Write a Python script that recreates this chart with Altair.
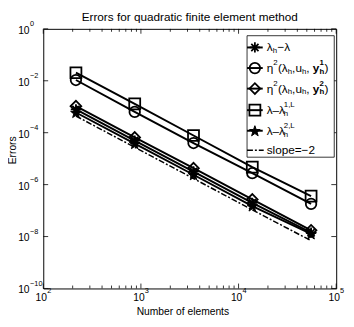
import math
import altair as alt
import pandas as pd

# ---------------- data ----------------
N = [216, 864, 3456, 13824, 55296]
err_lam = [7.9e-4, 5.0e-5, 3.2e-6, 2.0e-7, 1.41e-8]      # lambda_h - lambda   (asterisk)
eta_y1 = [1.07e-2, 6.3e-4, 4.0e-5, 2.75e-6, 1.8e-7]     # eta^2(.., y1)       (circle)
eta_y2 = [1.05e-3, 6.6e-5, 4.3e-6, 2.7e-7, 1.74e-8]     # eta^2(.., y2)       (diamond)
lam_1L = [2.04e-2, 1.29e-3, 7.8e-5, 4.7e-6, 3.6e-7]     # lambda - lambda^1L  (square)
lam_2L = [6.0e-4, 3.8e-5, 2.4e-6, 1.5e-7, 1.26e-8]      # lambda - lambda^2L  (star)
slope = [4.4e-4, 2.75e-5, 1.72e-6, 1.07e-7, 6.9e-9]     # slope = -2 reference

series_keys = ["lam", "eta1", "eta2", "l1L", "l2L"]
series_vals = [err_lam, eta_y1, eta_y2, lam_1L, lam_2L]

x_ticks = [100, 1000, 10000, 100000]
x_exp = ["2", "3", "4", "5"]
y_ticks = [1, 1e-2, 1e-4, 1e-6, 1e-8, 1e-10]
y_exp = ["0", "\u22122", "\u22124", "\u22126", "\u22128", "\u221210"]
x_minor = [k * 10 ** d for d in range(2, 5) for k in range(2, 10)]

title_text = "Errors for quadratic finite element method"
x_title = "Number of elements"
y_title = "Errors"

# legend rows (pixel row centres inside plot) and text segments
legend_rows = ["lam", "eta1", "eta2", "l1L", "l2L", "slope"]
legend_row_y = [19, 40, 61, 83, 104, 124]
# (row index, text, dx, dy, font size, bold)
legend_segments = [
    (0, "\u03bb", 0, 0, 12, False), (0, "h", 6.2, 4, 8, False), (0, "\u2212\u03bb", 11, 0, 12, False),
    (1, "\u03b7", 0, 0, 12, False), (1, "2", 6.8, -5, 8, False), (1, "(\u03bb", 11.5, 0, 12, False),
    (1, "h", 21.5, 4, 8, False), (1, ",u", 26, 0, 12, False), (1, "h", 36, 4, 8, False),
    (1, ",", 40.5, 0, 12, False), (1, "y", 47, 0, 12, True), (1, "1", 54, -5, 8, True),
    (1, "h", 54, 4, 8, True), (1, ")", 59, 0, 12, False),
    (2, "\u03b7", 0, 0, 12, False), (2, "2", 6.8, -5, 8, False), (2, "(\u03bb", 11.5, 0, 12, False),
    (2, "h", 21.5, 4, 8, False), (2, ",u", 26, 0, 12, False), (2, "h", 36, 4, 8, False),
    (2, ",", 40.5, 0, 12, False), (2, "y", 47, 0, 12, True), (2, "2", 54, -5, 8, True),
    (2, "h", 54, 4, 8, True), (2, ")", 59, 0, 12, False),
    (3, "\u03bb\u2013\u03bb", 0, 0, 12, False), (3, "1,L", 17.5, -5, 8, False), (3, "h", 17.5, 4, 8, False),
    (4, "\u03bb\u2013\u03bb", 0, 0, 12, False), (4, "2,L", 17.5, -5, 8, False), (4, "h", 17.5, 4, 8, False),
    (5, "slope=\u22122", 0, 0, 12, False),
]

# ---------------- layout constants ----------------
W, H = 299, 265
FONT = "Liberation Sans"
LEG_X0, LEG_X1, LEG_Y0, LEG_Y1 = 208, 297, 7, 131
LEG_LINE0, LEG_LINE1, LEG_MARK, LEG_TEXT = 208, 224, 216, 228


def pentagram():
    pts = []
    for i in range(10):
        r = 1.0 if i % 2 == 0 else 0.40
        a = -math.pi / 2 + i * math.pi / 5
        pts.append((r * math.cos(a), r * math.sin(a) + 0.1))
    return "M" + "L".join(f"{x:.3f},{y:.3f}" for x, y in pts) + "Z"


ASTERISK = "M-1,0L1,0M0,-1L0,1M-0.7,-0.7L0.7,0.7M-0.7,0.7L0.7,-0.7"
shape_range = [ASTERISK, "circle", "diamond", "square", pentagram()]
size_range = [110, 130, 150, 100, 180]

xs = alt.Scale(type="log", domain=[100, 100000])
ys = alt.Scale(type="log", domain=[1e-10, 1])
shape_scale = alt.Scale(domain=series_keys, range=shape_range)
size_scale = alt.Scale(domain=series_keys, range=size_range)

# ---------------- data frames ----------------
rows = []
for k, vals in zip(series_keys, series_vals):
    for n, v in zip(N, vals):
        rows.append({"key": k, "N": n, "err": v})
df = pd.DataFrame(rows)
df_slope = pd.DataFrame({"N": N, "err": slope})

Xn = alt.X("N:Q", scale=xs, axis=None)
Yn = alt.Y("err:Q", scale=ys, axis=None)

lines = alt.Chart(df).mark_line(color="black", strokeWidth=2).encode(x=Xn, y=Yn, detail="key:N")
open_pts = alt.Chart(df[df.key != "l2L"]).mark_point(color="black", filled=False, strokeWidth=1.8, opacity=1).encode(
    x=Xn, y=Yn,
    shape=alt.Shape("key:N", scale=shape_scale, legend=None),
    size=alt.Size("key:N", scale=size_scale, legend=None))
star_pts = alt.Chart(df[df.key == "l2L"]).mark_point(color="black", filled=True, stroke="black",
                                                      strokeWidth=1, opacity=1).encode(
    x=Xn, y=Yn,
    shape=alt.Shape("key:N", scale=shape_scale, legend=None),
    size=alt.Size("key:N", scale=size_scale, legend=None))
slope_line = alt.Chart(df_slope).mark_line(color="black", strokeWidth=1.5, strokeDash=[6, 2, 2, 2]).encode(
    x=Xn, y=Yn)

# ---------------- ticks ----------------
df_xt = pd.DataFrame({"N": x_ticks, "e": x_exp})
df_xm = pd.DataFrame({"N": x_minor})
df_yt = pd.DataFrame({"err": y_ticks, "e": y_exp})

tick_layers = [
    alt.Chart(df_xt).mark_rule(color="black", strokeWidth=0.8).encode(x=Xn, y=alt.value(H), y2=alt.value(H - 5)),
    alt.Chart(df_xt).mark_rule(color="black", strokeWidth=0.8).encode(x=Xn, y=alt.value(0), y2=alt.value(5)),
    alt.Chart(df_xm).mark_rule(color="black", strokeWidth=0.8).encode(x=Xn, y=alt.value(H), y2=alt.value(H - 3)),
    alt.Chart(df_xm).mark_rule(color="black", strokeWidth=0.8).encode(x=Xn, y=alt.value(0), y2=alt.value(3)),
    alt.Chart(df_yt).mark_rule(color="black", strokeWidth=0.8).encode(y=Yn, x=alt.value(0), x2=alt.value(5)),
    alt.Chart(df_yt).mark_rule(color="black", strokeWidth=0.8).encode(y=Yn, x=alt.value(W - 5), x2=alt.value(W)),
    alt.Chart(df_xt).mark_text(font=FONT, fontSize=10.5, align="center", baseline="middle", dx=-2).encode(
        x=Xn, y=alt.value(H + 10), text=alt.value("10")),
    alt.Chart(df_xt).mark_text(font=FONT, fontSize=7.5, align="left", baseline="middle", dx=4).encode(
        x=Xn, y=alt.value(H + 3), text="e:N"),
    alt.Chart(df_yt).mark_text(font=FONT, fontSize=10.5, align="right", baseline="middle", dy=2).encode(
        y=Yn, x=alt.value(-14), text=alt.value("10")),
    alt.Chart(df_yt).mark_text(font=FONT, fontSize=7.5, align="left", baseline="middle", dy=-5).encode(
        y=Yn, x=alt.value(-13.5), text="e:N"),
]

# ---------------- titles (text marks) ----------------
df_one = pd.DataFrame({"t": [title_text]})
title_mark = alt.Chart(df_one).mark_text(font=FONT, fontSize=12, align="center", baseline="alphabetic").encode(
    x=alt.value(W / 2), y=alt.value(-8), text=alt.value(title_text))
xtitle_mark = alt.Chart(df_one).mark_text(font=FONT, fontSize=10.5, align="center", baseline="alphabetic").encode(
    x=alt.value(W / 2 - 7), y=alt.value(H + 27), text=alt.value(x_title))
ytitle_mark = alt.Chart(df_one).mark_text(font=FONT, fontSize=10.5, align="center", baseline="middle",
                                          angle=270).encode(
    x=alt.value(-31), y=alt.value(124), text=alt.value(y_title))

# ---------------- legend ----------------
df_leg = pd.DataFrame({"key": legend_rows, "py": legend_row_y})
leg_box = alt.Chart(df_leg.head(1)).mark_rect(fill="white", stroke="black", strokeWidth=0.8).encode(
    x=alt.value(LEG_X0), x2=alt.value(LEG_X1), y=alt.value(LEG_Y0), y2=alt.value(LEG_Y1))
PY = alt.Y("py:Q", scale=None, axis=None)
leg_lines = alt.Chart(df_leg[df_leg.key != "slope"]).mark_rule(color="black", strokeWidth=2).encode(
    x=alt.value(LEG_LINE0), x2=alt.value(LEG_LINE1), y=PY)
leg_slope = alt.Chart(df_leg[df_leg.key == "slope"]).mark_rule(color="black", strokeWidth=1.5,
                                                              strokeDash=[6, 2, 2, 2]).encode(
    x=alt.value(LEG_LINE0), x2=alt.value(LEG_LINE1 + 1), y=PY)
leg_open = alt.Chart(df_leg[~df_leg.key.isin(["l2L", "slope"])]).mark_point(
    color="black", filled=False, strokeWidth=1.8, opacity=1).encode(
    x=alt.value(LEG_MARK), y=PY,
    shape=alt.Shape("key:N", scale=shape_scale, legend=None),
    size=alt.Size("key:N", scale=size_scale, legend=None))
leg_star = alt.Chart(df_leg[df_leg.key == "l2L"]).mark_point(
    color="black", filled=True, stroke="black", strokeWidth=1, opacity=1).encode(
    x=alt.value(LEG_MARK), y=PY,
    shape=alt.Shape("key:N", scale=shape_scale, legend=None),
    size=alt.Size("key:N", scale=size_scale, legend=None))

seg_rows = []
for r, t, dx, dy, fs, b in legend_segments:
    seg_rows.append({"t": t, "px": LEG_TEXT + dx, "py": legend_row_y[r] + dy, "fs": fs, "b": b})
df_seg = pd.DataFrame(seg_rows)
PX = alt.X("px:Q", scale=None, axis=None)
leg_text = alt.Chart(df_seg[~df_seg.b]).mark_text(font=FONT, align="left", baseline="middle").encode(
    x=PX, y=PY, text="t:N", size=alt.Size("fs:Q", scale=None, legend=None))
leg_text_b = alt.Chart(df_seg[df_seg.b]).mark_text(font=FONT, align="left", baseline="middle",
                                                   fontWeight="bold").encode(
    x=PX, y=PY, text="t:N", size=alt.Size("fs:Q", scale=None, legend=None))

chart = alt.layer(
    lines, slope_line, open_pts, star_pts, *tick_layers, title_mark, xtitle_mark, ytitle_mark,
    leg_box, leg_lines, leg_slope, leg_open, leg_star, leg_text, leg_text_b,
).properties(
    width=W, height=H,
    autosize=alt.AutoSizeParams(type="none"),
    padding={"left": 36, "top": 18, "right": 10, "bottom": 34},
).configure_view(stroke="black", strokeWidth=1)

chart.save("out.html", embed_options={"renderer": "svg", "actions": False})
